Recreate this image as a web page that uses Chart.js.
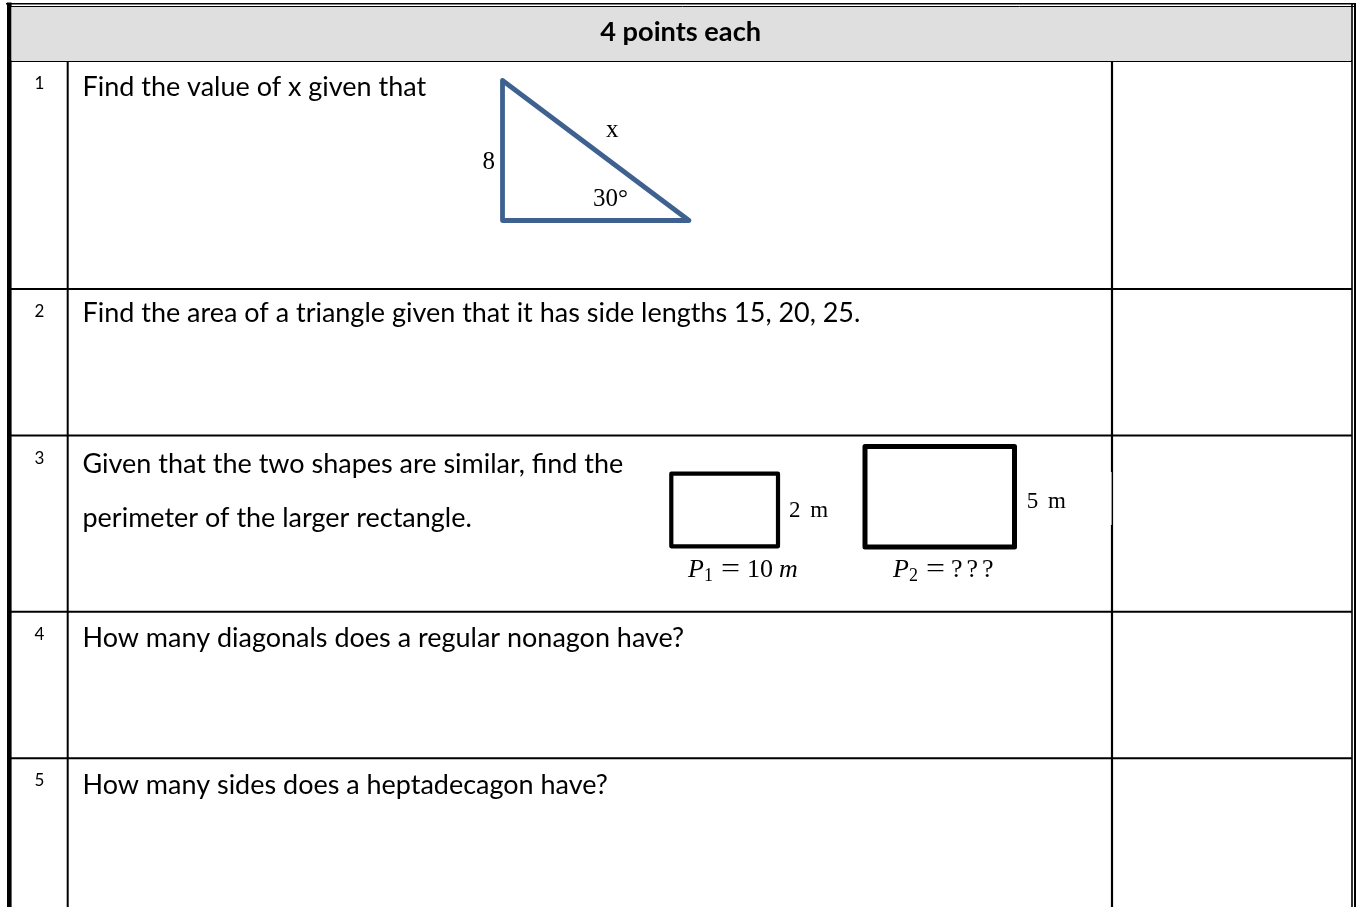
<!DOCTYPE html>
<html>
<head>
<meta charset="utf-8">
<script src="https://cdn.jsdelivr.net/npm/chart.js@4.4.1/dist/chart.umd.min.js"></script>
<style>
html,body{margin:0;padding:0;background:#fff;}
#wrap{width:1356px;height:907px;position:relative;}
canvas{display:block;}
</style>
</head>
<body>
<div id="wrap"><canvas id="c" width="1356" height="907"></canvas></div>
<script>
// ---------------- content / data ----------------
const headerTitle = '4 points each';
const questionNumbers = ['1', '2', '3', '4', '5'];
const questions = [
  ['Find the value of x given that'],
  ['Find the area of a triangle given that it has side lengths 15, 20, 25.'],
  ['Given that the two shapes are similar, find the', 'perimeter of the larger rectangle.'],
  ['How many diagonals does a regular nonagon have?'],
  ['How many sides does a heptadecagon have?']
];
// table grid (page units)
const rowEdges = [61, 289, 435.5, 611.7, 758.3];
const colEdges = [9.3, 67.7, 1112, 1352];
// figure 1: right triangle (vertical leg, horizontal leg)
const triangleLegs = [8, 13.86];
const triangleLabels = ['8', 'x', '30°'];
// figure 3: similar rectangles [width, height] in metres
const smallRect = [3, 2];
const largeRect = [7.5, 5];
const rectUnit = 'm';
const perimeterLabels = [['P', '1', '10'], ['P', '2', '???']];

// ---------------- helpers ----------------
const W = 1356, H = 907;
function placeX(p0, p1, v1) { const k = (p1 - p0) / v1; return { min: -p0 / k, max: (W - p0) / k }; }
function placeY(pb, pt, v1) { const k = (pb - pt) / v1; const min = -(H - pb) / k; return { min: min, max: min + H / k }; }
function hidden(extra) {
  return Object.assign({ type: 'linear', display: false, bounds: 'data', grace: 0, ticks: { display: false } }, extra);
}
function seg(x1, y1, x2, y2) { return [{ x: x1, y: y1 }, { x: x2, y: y2 }]; }
function lineDs(data, width, color, axes, extra) {
  return Object.assign({
    type: 'scatter', data: data, showLine: true, pointRadius: 0, pointHoverRadius: 0,
    borderWidth: width, borderColor: color, backgroundColor: color, fill: false,
    borderCapStyle: 'butt', borderJoinStyle: 'miter', tension: 0,
    xAxisID: (axes || ['x', 'y'])[0], yAxisID: (axes || ['x', 'y'])[1]
  }, extra || {});
}
function rectPoints(r) { return [{ x: 0, y: 0 }, { x: r[0], y: 0 }, { x: r[0], y: r[1] }, { x: 0, y: r[1] }, { x: 0, y: 0 }]; }

const left = colEdges[0], right = colEdges[3];
const datasets = [];
// header background (fill between two lines)
datasets.push(lineDs(seg(left + 2, 7, right - 1, 7), 0, 'rgba(0,0,0,0)', null, { fill: '+1', backgroundColor: '#dfdfdf' }));
datasets.push(lineDs(seg(left + 2, rowEdges[0], right - 1, rowEdges[0]), 0, 'rgba(0,0,0,0)'));
// horizontal row lines
rowEdges.forEach(function (y) { datasets.push(lineDs(seg(left, y, right, y), 2, '#000')); });
// column dividers
datasets.push(lineDs(seg(colEdges[1], rowEdges[0], colEdges[1], H), 2, '#000'));
datasets.push(lineDs(seg(colEdges[2], rowEdges[0], colEdges[2], H), 2.2, '#000'));
// outer border
datasets.push(lineDs(seg(left, 2.6, left, H), 4.6, '#000'));
datasets.push(lineDs(seg(6, 3.7, W, 3.7), 1.6, '#000'));
datasets.push(lineDs(seg(left, 6.5, W, 6.5), 1, '#000'));
datasets.push(lineDs(seg(right, 3, right, H), 1.6, '#000'));
datasets.push(lineDs(seg(1355, 3, 1355, H), 2, '#000'));
// triangle
datasets.push(lineDs([{ x: 0, y: triangleLegs[0] }, { x: 0, y: 0 }, { x: triangleLegs[1], y: 0 }, { x: 0, y: triangleLegs[0] }, { x: 0, y: 0 }],
  4.8, '#3e6190', ['triX', 'triY'], { borderJoinStyle: 'round', borderCapStyle: 'round' }));
// rectangles
datasets.push(lineDs(rectPoints(smallRect), 4.2, '#000', ['sX', 'sY'], { borderJoinStyle: 'round' }));
datasets.push(lineDs(rectPoints(largeRect), 5, '#000', ['lX', 'lY'], { borderJoinStyle: 'round' }));

const scales = {
  x: hidden({ min: 0, max: W }),
  y: hidden({ min: 0, max: H, reverse: true }),
  triX: hidden(Object.assign({ axis: 'x' }, placeX(502.5, 689, triangleLegs[1]))),
  triY: hidden(Object.assign({ axis: 'y' }, placeY(220.5, 80.5, triangleLegs[0]))),
  sX: hidden(Object.assign({ axis: 'x' }, placeX(671.3, 778, smallRect[0]))),
  sY: hidden(Object.assign({ axis: 'y' }, placeY(546.3, 473.7, smallRect[1]))),
  lX: hidden(Object.assign({ axis: 'x' }, placeX(865, 1014.5, largeRect[0]))),
  lY: hidden(Object.assign({ axis: 'y' }, placeY(547, 446.5, largeRect[1])))
};

// ---------------- text plugin ----------------
const textPlugin = {
  id: 'worksheetText',
  afterDatasetsDraw: function (chart) {
    const ctx = chart.ctx;
    const sx = chart.scales.x, sy = chart.scales.y;
    const X = v => sx.getPixelForValue(v), Y = v => sy.getPixelForValue(v);
    ctx.save();
    ctx.fillStyle = '#000';
    ctx.textBaseline = 'alphabetic';

    // body font fitted so the second question spans its width in the reference
    ctx.font = '100px Lato';
    const bodySize = 100 * 778 / ctx.measureText(questions[1][0]).width;
    const bodyFont = bodySize.toFixed(2) + 'px Lato';

    // header
    ctx.font = 'bold 100px Lato';
    const hSize = 100 * 161 / ctx.measureText(headerTitle).width;
    ctx.font = 'bold ' + hSize.toFixed(2) + 'px Lato';
    ctx.textAlign = 'center';
    ctx.fillText(headerTitle, X((left + right) / 2), Y(40.7));

    // rows
    const firstOffsets = [34.5, 32.7, 37, 34.8, 35.2];
    questions.forEach(function (lines, i) {
      const top = rowEdges[i];
      ctx.font = '17px Lato';
      ctx.textAlign = 'center';
      ctx.fillText(questionNumbers[i], X(39.5), Y(top + 28));
      ctx.font = bodyFont;
      ctx.textAlign = 'left';
      lines.forEach(function (t, j) {
        ctx.fillText(t, X(82.5), Y(top + firstOffsets[i] + j * 54.5));
      });
    });

    // triangle labels
    ctx.font = '25px "Liberation Serif"';
    ctx.textAlign = 'left';
    ctx.fillText(triangleLabels[0], X(482.5), Y(169.3));
    ctx.fillText(triangleLabels[1], X(606), Y(137.3));
    ctx.fillText(triangleLabels[2], X(593), Y(205.7));

    // text box of "5 m" slightly covers the answer divider
    ctx.fillStyle = '#fff';
    ctx.fillRect(X(1020), Y(472), X(1111.6) - X(1020), Y(525) - Y(472));
    ctx.fillStyle = '#000';

    // rectangle side labels
    ctx.font = '23px "Liberation Serif"';
    if ('wordSpacing' in ctx) ctx.wordSpacing = '4px';
    ctx.fillText(smallRect[1] + ' ' + rectUnit, X(789), Y(517.3));
    ctx.fillText(largeRect[1] + ' ' + rectUnit, X(1026.7), Y(508.3));
    if ('wordSpacing' in ctx) ctx.wordSpacing = '0px';

    // perimeter formulas
    function formula(p, xs, base) {
      ctx.font = 'italic 26px "Liberation Serif"';
      ctx.fillText(p[0], X(xs[0]), Y(base));
      ctx.font = '18px "Liberation Serif"';
      ctx.fillText(p[1], X(xs[1]), Y(base + 4.5));
      ctx.font = '27px "Liberation Serif"';
      ctx.save();
      ctx.translate(X(xs[2]), Y(base));
      ctx.scale(1.25, 1);
      ctx.fillText('=', 0, 0);
      ctx.restore();
      ctx.font = '26px "Liberation Serif"';
      if ('letterSpacing' in ctx && p[2] === '???') ctx.letterSpacing = '4px';
      ctx.fillText(p[2], X(xs[3]), Y(base));
      if ('letterSpacing' in ctx) ctx.letterSpacing = '0px';
      if (p[2] !== '???') {
        ctx.font = 'italic 26px "Liberation Serif"';
        ctx.fillText(rectUnit, X(xs[4]), Y(base));
      }
    }
    formula(perimeterLabels[0], [688, 704, 721, 747, 779], 576.7);
    formula(perimeterLabels[1], [893, 909, 926, 951, 0], 576.7);
    ctx.restore();
  }
};

new Chart(document.getElementById('c'), {
  type: 'scatter',
  data: { datasets: datasets },
  options: {
    responsive: false,
    animation: false,
    devicePixelRatio: 1,
    layout: { padding: 0 },
    clip: false,
    scales: scales,
    plugins: { legend: { display: false }, tooltip: { enabled: false }, title: { display: false } },
    events: []
  },
  plugins: [textPlugin]
});
</script>
</body>
</html>
